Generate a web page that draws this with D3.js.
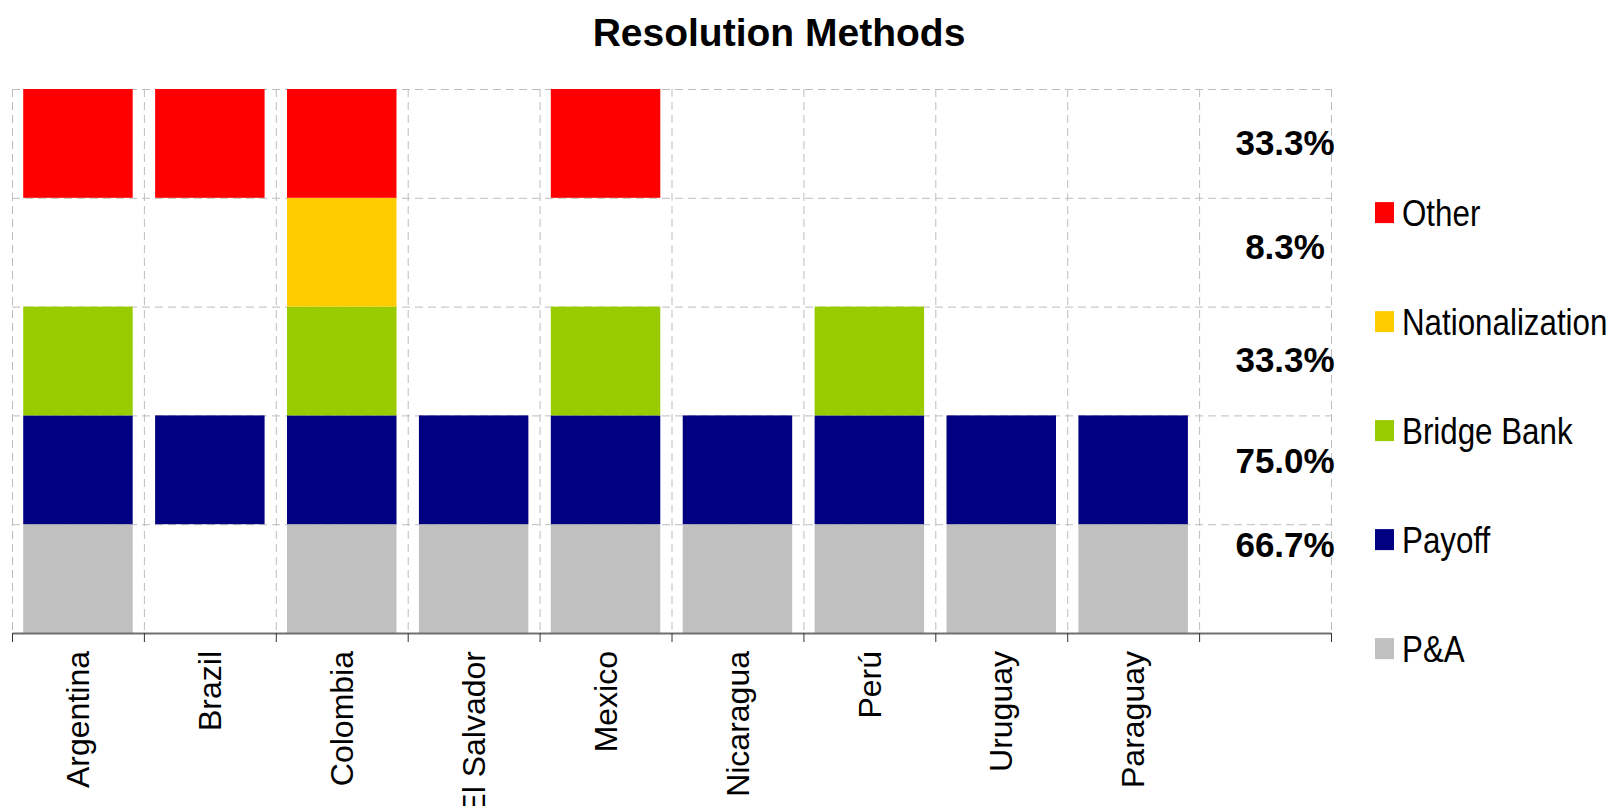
<!DOCTYPE html>
<html>
<head>
<meta charset="utf-8">
<script src="https://cdn.jsdelivr.net/npm/d3@7"></script>
<style>
  html, body { margin: 0; padding: 0; background: #fff; }
  svg { display: block; font-family: "Liberation Sans", Arial, sans-serif; }
</style>
</head>
<body>
<svg id="chart" width="1614" height="806"></svg>
<script>
// Countries (the last, unnamed column holds the share labels)
const categories = ["Argentina", "Brazil", "Colombia", "El Salvador", "Mexico",
                    "Nicaragua", "Perú", "Uruguay", "Paraguay", ""];

// Resolution methods, bottom level first
const methods = ["P&A", "Payoff", "Bridge Bank", "Nationalization", "Other"];

// 1 = method used in that country, 0 = not used
const paValues      = [1, 0, 1, 1, 1, 1, 1, 1, 1, 0];
const payoffValues  = [1, 1, 1, 1, 1, 1, 1, 1, 1, 0];
const bridgeValues  = [1, 0, 1, 0, 1, 0, 1, 0, 0, 0];
const nationValues  = [0, 0, 1, 0, 0, 0, 0, 0, 0, 0];
const otherValues   = [1, 1, 1, 0, 1, 0, 0, 0, 0, 0];

// Share of cases per method
const shareLabels = ["66.7%", "75.0%", "33.3%", "8.3%", "33.3%"];

const seriesValues = [paValues, payoffValues, bridgeValues, nationValues, otherValues];
const colors = ["#C0C0C0", "#000080", "#99CC00", "#FFCC00", "#FF0000"];
// vertical nudges of the share labels within their row (px)
const shareNudge = [-22, 3, 11, 7, 12];

const svg = d3.select("#chart");
const margin = { left: 12, right: 1331, top: 89, bottom: 633 };

const x = d3.scaleBand().domain(categories).range([margin.left, margin.right]).padding(0);
const y = d3.scaleLinear().domain([0, methods.length]).range([margin.bottom, margin.top]);

// Title
svg.append("text")
  .attr("x", 779).attr("y", 46)
  .attr("text-anchor", "middle")
  .attr("font-size", 39).attr("font-weight", "bold")
  .text("Resolution Methods");

// Dashed grid
const grid = svg.append("g").attr("stroke", "#bdbdbd").attr("stroke-width", 1)
  .attr("stroke-dasharray", "8,5").attr("fill", "none");
const boundaries = categories.map(c => x(c)).concat([x.range()[1]]);
grid.selectAll("line.v").data(boundaries).join("line")
  .attr("class", "v")
  .attr("x1", d => d + 0.5).attr("x2", d => d + 0.5)
  .attr("y1", y(methods.length)).attr("y2", y(0));
grid.selectAll("line.h").data(d3.range(1, methods.length + 1)).join("line")
  .attr("class", "h")
  .attr("x1", x.range()[0]).attr("x2", x.range()[1])
  .attr("y1", d => y(d) + 0.5).attr("y2", d => y(d) + 0.5);

// Bars: each method sits on its own fixed level
const barInset = x.step() * 0.085;
const barWidth = x.step() * 0.83;
const bars = svg.append("g");
seriesValues.forEach((vals, level) => {
  bars.selectAll(null)
    .data(categories.map((c, i) => ({ c, v: vals[i] })).filter(d => d.v > 0))
    .join("rect")
    .attr("x", d => x(d.c) + barInset)
    .attr("width", barWidth)
    .attr("y", d => y(level + d.v))
    .attr("height", d => y(level) - y(level + d.v))
    .attr("fill", colors[level]);
});

// Category axis
const axis = d3.axisBottom(x).tickSize(0).tickFormat("");
const axisG = svg.append("g").attr("transform", `translate(0,${y(0)})`).call(axis);
axisG.select(".domain").attr("stroke", "#707070").attr("stroke-width", 2);
svg.append("g").selectAll("line").data(boundaries).join("line")
  .attr("x1", d => d + 0.5).attr("x2", d => d + 0.5)
  .attr("y1", y(0)).attr("y2", y(0) + 9)
  .attr("stroke", "#333").attr("stroke-width", 1);

svg.append("g").selectAll("text").data(categories.filter(c => c !== "")).join("text")
  .attr("transform", d => `translate(${x(d) + x.bandwidth() / 2},651) rotate(-90)`)
  .attr("text-anchor", "end")
  .attr("dy", "0.35em")
  .attr("font-size", 32)
  .text(d => d);

// Share labels in the last column
const lastCol = categories[categories.length - 1];
svg.append("g").selectAll("text").data(shareLabels).join("text")
  .attr("x", x(lastCol) + x.bandwidth() / 2 + 20)
  .attr("y", (d, i) => (y(i) + y(i + 1)) / 2 + shareNudge[i])
  .attr("text-anchor", "middle")
  .attr("font-size", 35).attr("font-weight", "bold")
  .text(d => d);

// Legend, top entry = top level
const legendItems = methods.map((m, i) => ({ m, c: colors[i], i })).reverse();
const legend = svg.append("g");
const lg = legend.selectAll("g").data(legendItems).join("g")
  .attr("transform", (d, k) => `translate(1375,${212.6 + k * 109})`);
lg.append("rect").attr("x", 0).attr("y", -10.5).attr("width", 19).attr("height", 21)
  .attr("fill", d => d.c);
lg.append("text")
  .attr("transform", "translate(27,13) scale(0.87,1)")
  .attr("font-size", 36)
  .text(d => d.m);
</script>
</body>
</html>
